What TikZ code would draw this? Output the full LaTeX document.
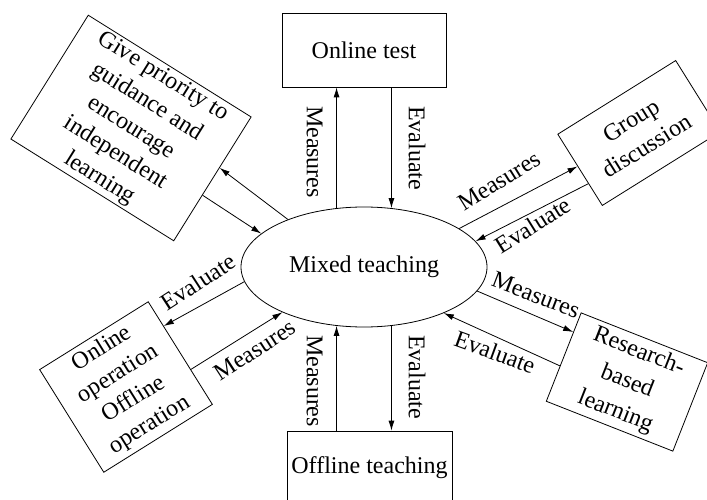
\documentclass[tikz,border=0pt]{standalone}
\usepackage{fontspec}
\setmainfont{Liberation Serif}
\usetikzlibrary{arrows.meta,calc,shapes.geometric}
\begin{document}
\begin{tikzpicture}[x=1pt,y=1pt,
  txt/.style={font=\fontsize{24}{30}\selectfont},
  box/.style={txt, draw, line width=0.8pt, inner sep=2pt, align=center},
  lab/.style={txt, inner sep=0pt},
  arr/.style={line width=0.8pt, -{Latex[length=10pt,width=6pt]}}]
\useasboundingbox (0,0) rectangle (707,-500);
\node[txt, draw, ellipse, line width=0.8pt, minimum width=246, minimum height=120, inner sep=0pt] (mix) at (364,-267) {Mixed teaching};
\node[box, minimum width=164, minimum height=74] (ot) at (364,-50) {Online test};
\node[box, minimum width=165, minimum height=74] (ft) at (369.5,-468) {Offline teaching};
\node[box, rotate=32, minimum width=139, minimum height=84] (gd) at (639,-133) {Group\\discussion};
\node[box, rotate=-21.5, minimum width=136, minimum height=95, font=\fontsize{24}{32}\selectfont] (rb) at (627,-382) {Research-\\based\\learning};
\node[box, rotate=32, minimum width=128, minimum height=121] (oo) at (126,-387) {Online\\operation\\Offline\\operation};
\node[box, rotate=-32, minimum width=192, minimum height=146] (gp) at (131,-128) {Give priority to\\guidance and\\encourage\\independent\\learning};
% vertical connectors
\draw[arr] (mix.115) -- (mix.115 |- ot.south);
\draw[arr] (mix.65 |- ot.south) -- (mix.65);
\draw[arr] (mix.245 |- ft.north) -- (mix.245);
\draw[arr] (mix.295) -- (mix.295 |- ft.north);
% slanted connectors
\draw[arr] (mix.22) -- ($(gd.south west)!0.55!(gd.north west)$);
\draw[arr] ($(gd.south west)!0.31!(gd.north west)$) -- (mix.13);
\draw[arr] (mix.-12) -- ($(rb.south west)!0.78!(rb.north west)$);
\draw[arr] ($(rb.south west)!0.40!(rb.north west)$) -- (mix.-30);
\draw[arr] (mix.187) -- ($(oo.south east)!0.76!(oo.north east)$);
\draw[arr] ($(oo.south east)!0.34!(oo.north east)$) -- (mix.209);
\draw[arr] (mix.148) -- ($(gp.south east)!0.59!(gp.north east)$);
\draw[arr] ($(gp.south east)!0.37!(gp.north east)$) -- (mix.162);
% labels
\node[lab, rotate=-90] (l1) at (314.5,-152) {Measures};
\node[lab, rotate=-90] (l2) at (417,-148) {Evaluate};
\node[lab, rotate=-90] (l3) at (314.5,-381) {Measures};
\node[lab, rotate=-90] (l4) at (417,-377) {Evaluate};
\node[lab, rotate=32] (l5) at (499,-181) {Measures};
\node[lab, rotate=32] (l6) at (533,-225) {Evaluate};
\node[lab, rotate=-21] (l7) at (536,-295) {Measures};
\node[lab, rotate=-20] (l8) at (495,-352) {Evaluate};
\node[lab, rotate=33] (l9) at (198,-282) {Evaluate};
\node[lab, rotate=33] (l10) at (255,-350) {Measures};
\end{tikzpicture}
\end{document}
